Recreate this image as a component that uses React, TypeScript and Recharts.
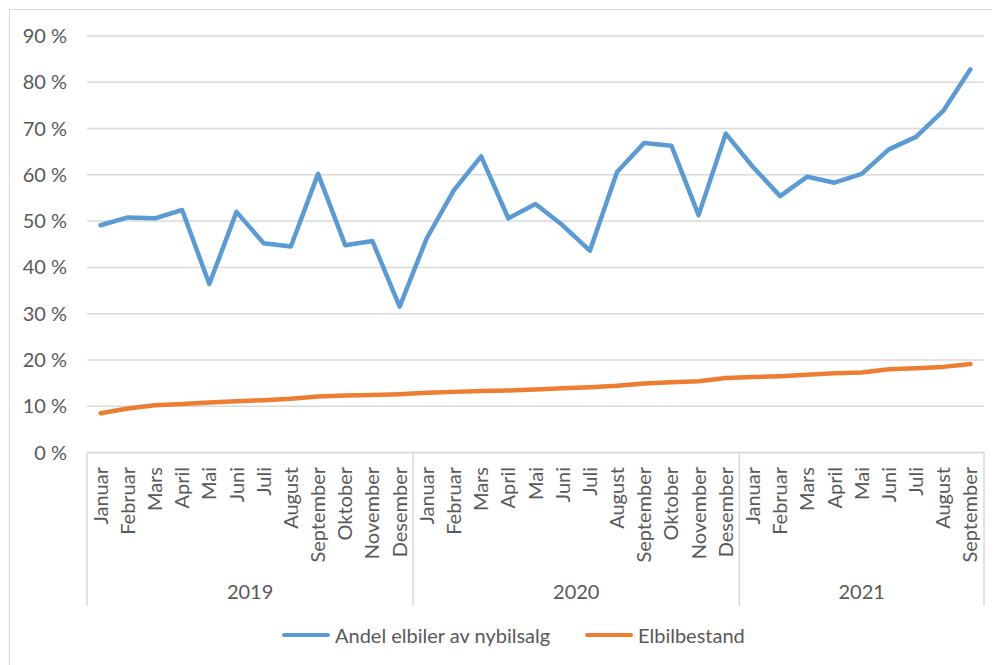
import React from "react";
import { LineChart, Line, XAxis, YAxis, CartesianGrid } from "recharts";

// Monthly share of EVs in new-car sales and share of EVs in the car fleet (%)
const YEARS = ["2019", "2020", "2021"];
const MONTHS_2019 = ["Januar", "Februar", "Mars", "April", "Mai", "Juni", "Juli", "August", "September", "Oktober", "November", "Desember"];
const MONTHS_2020 = ["Januar", "Februar", "Mars", "April", "Mai", "Juni", "Juli", "August", "September", "Oktober", "November", "Desember"];
const MONTHS_2021 = ["Januar", "Februar", "Mars", "April", "Mai", "Juni", "Juli", "August", "September"];

const ANDEL_NYBILSALG = [
  49.1, 50.8, 50.6, 52.4, 36.4, 52.0, 45.2, 44.5, 60.2, 44.8, 45.7, 31.5,
  46.3, 56.7, 64.0, 50.6, 53.7, 49.1, 43.6, 60.6, 66.9, 66.3, 51.3, 68.9,
  61.7, 55.4, 59.6, 58.3, 60.2, 65.5, 68.2, 73.8, 82.8,
];
const ELBILBESTAND = [
  8.5, 9.5, 10.2, 10.5, 10.8, 11.1, 11.3, 11.6, 12.1, 12.3, 12.4, 12.6,
  12.9, 13.1, 13.3, 13.4, 13.6, 13.9, 14.1, 14.4, 14.9, 15.2, 15.4, 16.1,
  16.3, 16.5, 16.8, 17.1, 17.3, 18.0, 18.2, 18.5, 19.1,
];
const Y_TICKS = [0, 10, 20, 30, 40, 50, 60, 70, 80, 90];

const SERIES_NAMES = ["Andel elbiler av nybilsalg", "Elbilbestand"];
const BLUE = "#5b9bd5";
const ORANGE = "#ed7d31";
const TEXT = "#595959";
const GRID = "#d9d9d9";
const FONT = "Lato, 'Open Sans', sans-serif";
const FS = 20;

const MONTH_GROUPS = [MONTHS_2019, MONTHS_2020, MONTHS_2021];

type Row = { key: number; month: string; year: string; local: number; count: number; andel: number; bestand: number };
const rows: Row[] = [];
MONTH_GROUPS.forEach((months, yi) => {
  months.forEach((m, local) => {
    const i = rows.length;
    rows.push({
      key: i,
      month: m,
      year: YEARS[yi],
      local,
      count: months.length,
      andel: ANDEL_NYBILSALG[i],
      bestand: ELBILBESTAND[i],
    });
  });
});

// chart geometry
const W = 991;
const H = 657;
const MARGIN = { top: 28, right: 15, bottom: 52.5, left: 0 };
const Y_AXIS_W = 79;
const X_AXIS_H = 160;
const PLOT_W = W - MARGIN.left - MARGIN.right - Y_AXIS_W;
const BAND = PLOT_W / rows.length;

const MonthTick = (props: any) => {
  const { x, y, index } = props;
  const row = rows[index];
  if (!row) return null;
  const ty = y + 14.5;
  const els: React.ReactNode[] = [];
  els.push(
    <text
      key="m"
      x={x}
      y={ty}
      transform={`rotate(-90, ${x}, ${ty})`}
      textAnchor="end"
      dy="0.35em"
      fill={TEXT}
      fontSize={FS}
      fontFamily={FONT}
    >
      {row.month}
    </text>
  );
  if (row.local === 0) {
    els.push(<line key="l" x1={x - BAND / 2} x2={x - BAND / 2} y1={y} y2={y + 153} stroke={GRID} strokeWidth={1.5} />);
  }
  if (index === rows.length - 1) {
    els.push(<line key="r" x1={x + BAND / 2} x2={x + BAND / 2} y1={y} y2={y + 153} stroke={GRID} strokeWidth={1.5} />);
  }
  const mid = Math.floor((row.count - 1) / 2);
  if (row.local === mid) {
    const cx = x + ((row.count - 1) / 2 - mid) * BAND;
    els.push(
      <text key="y" x={cx} y={y + 139.5} textAnchor="middle" dy="0.35em" fill={TEXT} fontSize={FS} fontFamily={FONT}>
        {row.year}
      </text>
    );
  }
  return <g>{els}</g>;
};

const LegendItem = ({ color, label, left }: { color: string; label: string; left: number }) => (
  <div style={{ position: "absolute", left, top: 0, height: 24, display: "flex", alignItems: "center" }}>
    <div style={{ width: 48, height: 4.5, borderRadius: 3, background: color, marginRight: 5 }} />
    <span style={{ fontFamily: FONT, fontSize: FS, color: TEXT, whiteSpace: "nowrap" }}>{label}</span>
  </div>
);

export default function App() {
  return (
    <div style={{ position: "relative", width: W, height: H }}>
      <div
        style={{
          position: "absolute",
          left: 1,
          top: 1,
          right: 0,
          bottom: 0,
          borderLeft: `1.5px solid ${GRID}`,
          borderTop: `1.5px solid ${GRID}`,
          pointerEvents: "none",
        }}
      />
      <LineChart width={W} height={H} data={rows} margin={MARGIN}>
        <CartesianGrid vertical={false} stroke={GRID} strokeWidth={1.5} />
        <XAxis
          dataKey="key"
          type="category"
          scale="band"
          height={X_AXIS_H}
          interval={0}
          tickLine={false}
          tickSize={0}
          tickMargin={0}
          axisLine={{ stroke: GRID, strokeWidth: 1.5 }}
          tick={<MonthTick />}
        />
        <YAxis
          width={Y_AXIS_W}
          domain={[0, 90]}
          ticks={Y_TICKS}
          interval={0}
          axisLine={false}
          tickLine={false}
          tickSize={0}
          tickMargin={20}
          tickFormatter={(v: number) => `${v} %`}
          tick={{ fill: TEXT, fontSize: FS, fontFamily: FONT }}
        />
        <Line
          dataKey="andel"
          name={SERIES_NAMES[0]}
          stroke={BLUE}
          strokeWidth={4.5}
          strokeLinecap="round"
          strokeLinejoin="round"
          dot={false}
          activeDot={false}
          isAnimationActive={false}
        />
        <Line
          dataKey="bestand"
          name={SERIES_NAMES[1]}
          stroke={ORANGE}
          strokeWidth={4.5}
          strokeLinecap="round"
          strokeLinejoin="round"
          dot={false}
          activeDot={false}
          isAnimationActive={false}
        />
      </LineChart>
      <div style={{ position: "absolute", left: 0, top: 615, width: W, height: 24 }}>
        <LegendItem color={BLUE} label={SERIES_NAMES[0]} left={274} />
        <LegendItem color={ORANGE} label={SERIES_NAMES[1]} left={577} />
      </div>
    </div>
  );
}
